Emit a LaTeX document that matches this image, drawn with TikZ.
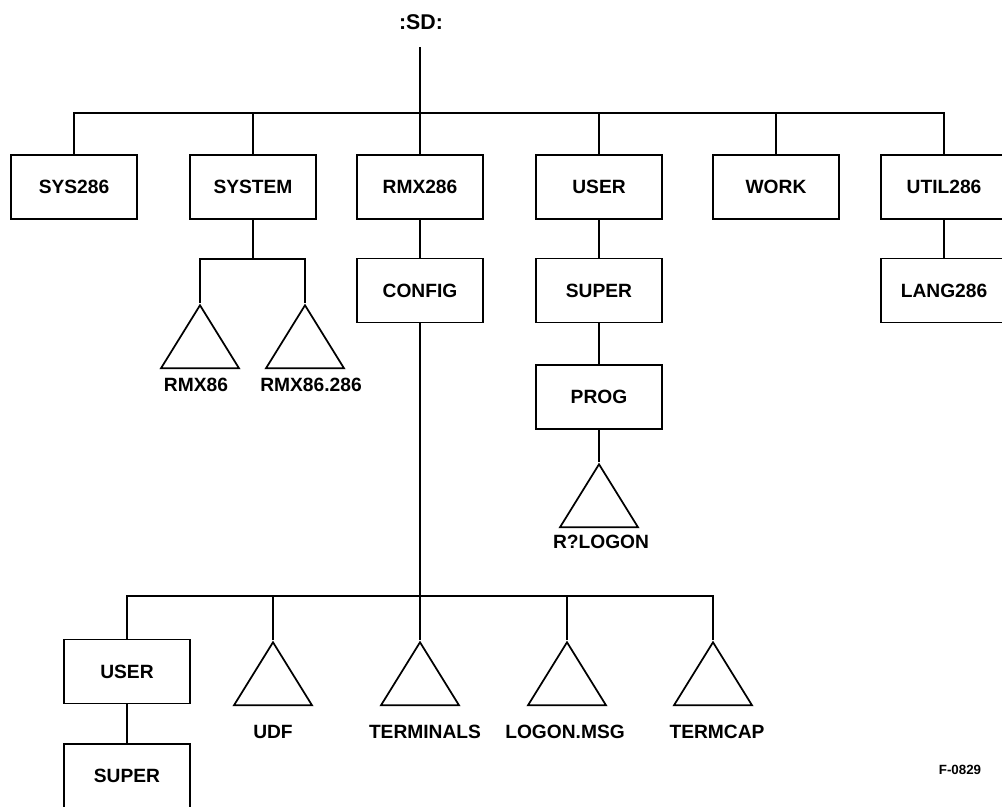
\documentclass[tikz,border=0pt]{standalone}
\usepackage{fontspec}
\setmainfont{Liberation Sans}
\usetikzlibrary{shapes.geometric}
\tikzset{
  dirbox/.style={draw, line width=1.3pt, minimum width=94.5pt, minimum height=48pt, inner sep=0pt,
    font=\bfseries\fontsize{14.4}{16}\selectfont},
  filetri/.style={draw, line width=1.3pt, isosceles triangle, shape border rotate=90,
    isosceles triangle stretches, minimum width=58.5pt, minimum height=47.25pt, inner sep=0pt, anchor=apex},
  lbl/.style={font=\bfseries\fontsize{14.4}{16}\selectfont, inner sep=0pt},
  conn/.style={line width=1.3pt}
}
\begin{document}
\begin{tikzpicture}[x=0.75pt,y=-0.75pt]
\useasboundingbox (0,0) rectangle (1002,806);
\clip (0,0) rectangle (1002,806);
% root
\node[lbl, font=\bfseries\fontsize{16}{18}\selectfont] (sd) at (421,22) {:SD:};
\coordinate (b0) at (420,113);
% first level
\node[dirbox] (sys286) at (74,187) {SYS286};
\node[dirbox] (system) at (253,187) {SYSTEM};
\node[dirbox] (rmx286) at (420,187) {RMX286};
\node[dirbox] (user) at (599,187) {USER};
\node[dirbox] (work) at (776,187) {WORK};
\node[dirbox] (util) at (944,187) {UTIL286};
% second level
\node[dirbox] (config) at (420,290.5) {CONFIG};
\node[dirbox] (super) at (599,290.5) {SUPER};
\node[dirbox] (lang) at (944,290.5) {LANG286};
\node[dirbox] (prog) at (599,397) {PROG};
% system files
\coordinate (s1) at (253,259);
\node[filetri] (trmx86) at (200,303) {};
\node[filetri] (trmx86b) at (305,303) {};
\node[lbl] (lrmx86) at (196,385) {RMX86};
\node[lbl] (lrmx86b) at (311,385) {RMX86.286};
% prog file
\node[filetri] (tlogon) at (599,462) {};
\node[lbl] (llogon) at (601,542) {R?LOGON};
% config children
\coordinate (b1) at (420,596);
\node[dirbox] (user2) at (127,671.5) {USER};
\node[dirbox] (super2) at (127,776) {SUPER};
\node[filetri] (tudf) at (273,640) {};
\node[filetri] (tterm) at (420,640) {};
\node[filetri] (tmsg) at (567,640) {};
\node[filetri] (tcap) at (713,640) {};
\node[lbl] (ludf) at (273,732) {UDF};
\node[lbl] (lterm) at (425,732) {TERMINALS};
\node[lbl] (lmsg) at (565,732) {LOGON.MSG};
\node[lbl] (lcap) at (717,732) {TERMCAP};
\node[font=\bfseries\fontsize{10}{12}\selectfont, inner sep=0pt] (fig) at (960,770) {F-0829};
% connectors
\draw[conn, shorten <=13pt] (sd.south -| b0) -- (b0);
\draw[conn] (sys286.north) |- (b0) -| (util.north);
\draw[conn] (system.north) -- (system.north |- b0);
\draw[conn] (rmx286.north) -- (b0);
\draw[conn] (user.north) -- (user.north |- b0);
\draw[conn] (work.north) -- (work.north |- b0);
\draw[conn] (system.south) -- (s1);
\draw[conn] (trmx86.apex) |- (s1) -| (trmx86b.apex);
\draw[conn] (rmx286) -- (config);
\draw[conn] (user) -- (super);
\draw[conn] (super) -- (prog);
\draw[conn] (prog) -- (tlogon.apex);
\draw[conn] (util) -- (lang);
\draw[conn] (config.south) -- (tterm.apex);
\draw[conn] (user2.north) |- (b1) -| (tcap.apex);
\draw[conn] (tudf.apex) -- (tudf.apex |- b1);
\draw[conn] (tmsg.apex) -- (tmsg.apex |- b1);
\draw[conn] (user2) -- (super2);
\end{tikzpicture}
\end{document}
